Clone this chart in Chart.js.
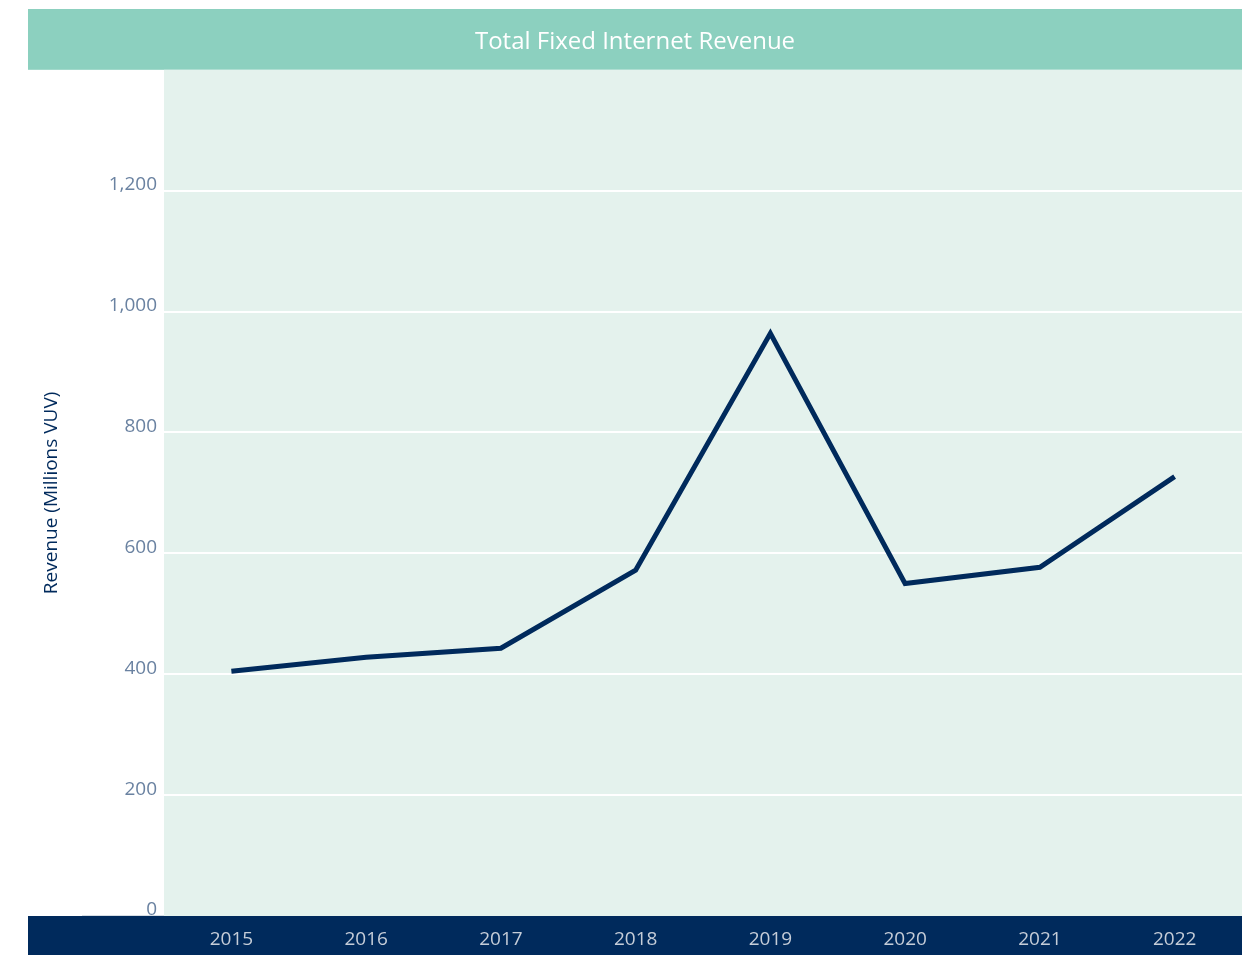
<!DOCTYPE html>
<html>
<head>
<meta charset="utf-8">
<script src="https://cdn.jsdelivr.net/npm/chart.js@4"></script>
<style>
  html, body { margin: 0; padding: 0; background: #ffffff; }
  #wrap { width: 1251px; height: 955px; }
</style>
</head>
<body>
<div id="wrap"><canvas id="revenueChart"></canvas></div>
<script>
const years = ["2015", "2016", "2017", "2018", "2019", "2020", "2021", "2022"];
const revenue = [405, 428, 443, 572, 964, 550, 577, 727];
const yTicks = [0, 200, 400, 600, 800, 1000, 1200];

const navy = "#002a5c";

// colored bands: title strip, plot background, bottom strip
const bands = {
  id: "bands",
  beforeDraw(chart) {
    const { ctx, chartArea } = chart;
    const left = 28;
    const right = chartArea.right;
    ctx.save();
    ctx.fillStyle = "#8cd0bf";
    ctx.fillRect(left, 9, right - left, chartArea.top - 9);
    ctx.fillStyle = "#e4f2ed";
    ctx.fillRect(chartArea.left, chartArea.top, right - chartArea.left, chartArea.bottom - chartArea.top);
    ctx.fillStyle = navy;
    ctx.fillRect(left, chartArea.bottom, right - left, chart.height - chartArea.bottom);
    ctx.fillStyle = "#d6dde4";
    ctx.fillRect(82, chartArea.bottom - 1, chartArea.left - 82, 1);
    ctx.restore();
  }
};

new Chart(document.getElementById("revenueChart"), {
  type: "line",
  data: {
    labels: years,
    datasets: [{
      label: "Revenue",
      data: revenue,
      borderColor: navy,
      borderWidth: 5,
      pointRadius: 0,
      tension: 0,
      fill: false
    }]
  },
  options: {
    responsive: true,
    maintainAspectRatio: false,
    animation: false,
    layout: { padding: { top: 9, left: 28, right: 9, bottom: 0 } },
    plugins: {
      legend: { display: false },
      tooltip: { enabled: false },
      title: {
        display: true,
        text: "Total Fixed Internet Revenue",
        color: "#ffffff",
        font: { family: "Open Sans", size: 24, weight: "normal", lineHeight: 1.2 },
        padding: { top: 19, bottom: 13 }
      }
    },
    scales: {
      x: {
        offset: true,
        grid: { display: false, drawTicks: false },
        border: { display: false },
        ticks: {
          color: "#c5cdd8",
          padding: 12,
          font: { family: "Open Sans", size: 19 }
        },
        afterFit(scale) { scale.height = 39; }
      },
      y: {
        min: 0,
        max: 1400,
        afterBuildTicks(scale) {
          scale.ticks = yTicks.concat([1400]).map(v => ({ value: v }));
        },
        afterFit(scale) { scale.width = 136; },
        grid: {
          drawTicks: false,
          lineWidth: 2,
          color: ctx => (ctx.tick && (ctx.tick.value === 0 || ctx.tick.value === 1400)) ? "rgba(0,0,0,0)" : "#ffffff"
        },
        border: { display: false },
        ticks: {
          color: "#6a82a1",
          padding: 7,
          labelOffset: -6,
          font: { family: "Open Sans", size: 19 },
          callback: v => v > 1200 ? "" : v.toLocaleString("en-US")
        },
        title: {
          display: true,
          text: "Revenue (Millions VUV)",
          color: navy,
          font: { family: "Open Sans", size: 19 },
          padding: { top: 12, bottom: 0 }
        }
      }
    }
  },
  plugins: [bands]
});
</script>
</body>
</html>
